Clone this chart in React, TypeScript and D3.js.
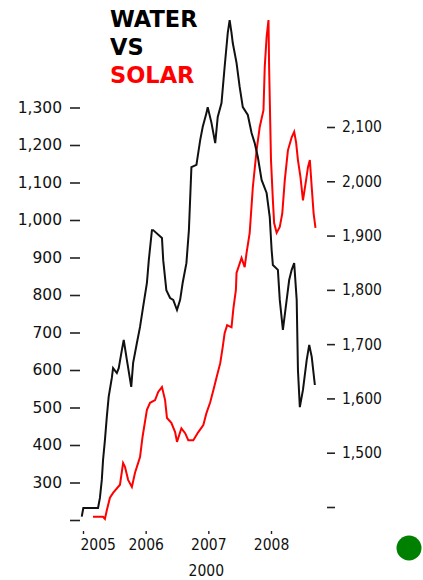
import React, { useEffect, useRef } from "react";
import * as d3 from "d3";

// time points are decimal years
const waterYears = [2004.98, 2005.005, 2005.24, 2005.27, 2005.3, 2005.32, 2005.35, 2005.38, 2005.41, 2005.46, 2005.48, 2005.54, 2005.57, 2005.62, 2005.65, 2005.7, 2005.77, 2005.8, 2005.86, 2005.91, 2005.96, 2006.02, 2006.05, 2006.1, 2006.12, 2006.26, 2006.28, 2006.33, 2006.39, 2006.44, 2006.5, 2006.55, 2006.59, 2006.65, 2006.69, 2006.73, 2006.81, 2006.87, 2006.91, 2006.97, 2006.99, 2007.05, 2007.11, 2007.15, 2007.21, 2007.26, 2007.31, 2007.34, 2007.37, 2007.39, 2007.45, 2007.5, 2007.55, 2007.63, 2007.69, 2007.74, 2007.79, 2007.85, 2007.93, 2007.98, 2008.01, 2008.03, 2008.11, 2008.14, 2008.19, 2008.25, 2008.29, 2008.33, 2008.37, 2008.41, 2008.43, 2008.46, 2008.51, 2008.57, 2008.61, 2008.65, 2008.7];
const waterValues = [209, 232, 232, 259, 307, 360, 413, 475, 529, 579, 605, 592, 605, 653, 680, 627, 555, 619, 672, 715, 769, 832, 893, 973, 973, 952, 893, 813, 792, 787, 760, 787, 832, 885, 973, 1141, 1147, 1213, 1248, 1285, 1301, 1259, 1205, 1275, 1312, 1408, 1499, 1533, 1499, 1472, 1419, 1355, 1301, 1280, 1232, 1205, 1168, 1107, 1072, 1008, 920, 880, 867, 787, 707, 787, 840, 867, 885, 787, 600, 501, 547, 627, 667, 635, 560];

const solarYears = [2005.16, 2005.32, 2005.35, 2005.38, 2005.43, 2005.48, 2005.59, 2005.64, 2005.67, 2005.72, 2005.78, 2005.83, 2005.91, 2005.95, 2006.02, 2006.07, 2006.15, 2006.2, 2006.26, 2006.31, 2006.34, 2006.41, 2006.47, 2006.5, 2006.57, 2006.63, 2006.68, 2006.76, 2006.84, 2006.92, 2006.97, 2007.03, 2007.08, 2007.13, 2007.19, 2007.23, 2007.26, 2007.3, 2007.37, 2007.4, 2007.44, 2007.45, 2007.53, 2007.58, 2007.61, 2007.66, 2007.71, 2007.77, 2007.82, 2007.88, 2007.9, 2007.93, 2007.96, 2007.97, 2008.0, 2008.03, 2008.05, 2008.09, 2008.14, 2008.18, 2008.22, 2008.27, 2008.33, 2008.37, 2008.4, 2008.43, 2008.47, 2008.51, 2008.56, 2008.59, 2008.62, 2008.65, 2008.68, 2008.71];
const solarValues = [1382, 1382, 1378, 1394, 1417, 1426, 1441, 1481, 1474, 1450, 1437, 1463, 1492, 1529, 1579, 1592, 1597, 1612, 1621, 1597, 1564, 1555, 1538, 1520, 1545, 1536, 1523, 1523, 1538, 1551, 1573, 1593, 1615, 1638, 1665, 1695, 1720, 1735, 1731, 1766, 1800, 1831, 1859, 1842, 1868, 1905, 1989, 2057, 2100, 2131, 2210, 2266, 2297, 2210, 2039, 1965, 1923, 1905, 1916, 1941, 2002, 2057, 2081, 2091, 2072, 2039, 2008, 1965, 2002, 2026, 2039, 1989, 1941, 1914];

const leftTicks = [200, 300, 400, 500, 600, 700, 800, 900, 1000, 1100, 1200, 1300];
const rightTicks = [1400, 1500, 1600, 1700, 1800, 1900, 2000, 2100];
const yearTicks = [2005, 2006, 2007, 2008];
const titleLines = [
  { text: "WATER", color: "#000" },
  { text: "VS", color: "#000" },
  { text: "SOLAR", color: "#ff0000" },
];

export default function App() {
  const ref = useRef<SVGSVGElement | null>(null);

  useEffect(() => {
    if (!ref.current) return;
    const svg = d3.select(ref.current);
    svg.selectAll("*").remove();

    const x = d3.scaleLinear().domain([2005, 2008]).range([83, 271]);
    const yL = d3.scaleLinear().domain([200, 1300]).range([520, 107.5]);
    const yR = d3.scaleLinear().domain([1400, 2100]).range([507, 127]);
    const fmt = d3.format(",");
    const condensed = "'DejaVu Sans Condensed', 'DejaVu Sans', sans-serif";

    // left axis
    const left = svg.append("g").attr("transform", "translate(80,0)")
      .call(d3.axisLeft(yL).tickValues(leftTicks).tickSize(10).tickPadding(8)
        .tickFormat((d) => (d === 200 ? "" : fmt(d as number))));
    left.select(".domain").remove();
    left.selectAll("line").attr("stroke", "#222").attr("stroke-width", 1.6);
    left.selectAll("text").attr("font-family", "'DejaVu Sans', Verdana, sans-serif")
      .attr("font-size", 15.5).attr("fill", "#111");

    // right axis
    const right = svg.append("g").attr("transform", "translate(327,0)")
      .call(d3.axisRight(yR).tickValues(rightTicks).tickSize(8).tickPadding(7)
        .tickFormat((d) => (d === 1400 ? "" : fmt(d as number))));
    right.select(".domain").remove();
    right.selectAll("line").attr("stroke", "#222").attr("stroke-width", 1.6);
    right.selectAll("text").attr("font-family", condensed)
      .attr("font-size", 15.5).attr("fill", "#111");

    // bottom axis
    const bottom = svg.append("g").attr("transform", "translate(0,531)")
      .call(d3.axisBottom(x).tickValues(yearTicks).tickSize(3).tickPadding(5)
        .tickFormat((d) => String(d)));
    bottom.select(".domain").remove();
    bottom.selectAll("line").attr("stroke", "#222").attr("stroke-width", 1.4);
    bottom.selectAll("text").attr("font-family", condensed)
      .attr("font-size", 15.5).attr("fill", "#111");
    bottom.selectAll<SVGTextElement, number>("text")
      .filter((d) => d === 2005)
      .attr("text-anchor", "start").attr("dx", -3);

    svg.append("text")
      .attr("x", x(2007) - 2).attr("y", 576)
      .attr("text-anchor", "middle")
      .attr("font-family", condensed)
      .attr("font-size", 15.5).attr("fill", "#111")
      .text("2000");

    // lines
    const water = waterYears.map((t, i) => [t, waterValues[i]] as [number, number]);
    const solar = solarYears.map((t, i) => [t, solarValues[i]] as [number, number]);

    svg.append("path").datum(solar)
      .attr("fill", "none").attr("stroke", "#ff0000").attr("stroke-width", 2)
      .attr("d", d3.line<[number, number]>().x((d) => x(d[0])).y((d) => yR(d[1])));

    svg.append("path").datum(water)
      .attr("fill", "none").attr("stroke", "#111").attr("stroke-width", 2)
      .attr("d", d3.line<[number, number]>().x((d) => x(d[0])).y((d) => yL(d[1])));

    // title
    svg.append("g").selectAll("text").data(titleLines).enter().append("text")
      .attr("x", 110).attr("y", (d, i) => 27 + i * 28)
      .attr("font-family", "'DejaVu Sans', Verdana, sans-serif")
      .attr("font-weight", "bold").attr("font-size", 22.5)
      .attr("fill", (d) => d.color)
      .text((d) => d.text);

    // green dot
    svg.append("circle").attr("cx", 409).attr("cy", 548).attr("r", 12.5).attr("fill", "#008000");
  }, []);

  return (
    <svg ref={ref} width={423} height={580}
      style={{ position: "absolute", left: 0, top: 0, display: "block", background: "#fff" }} />
  );
}
